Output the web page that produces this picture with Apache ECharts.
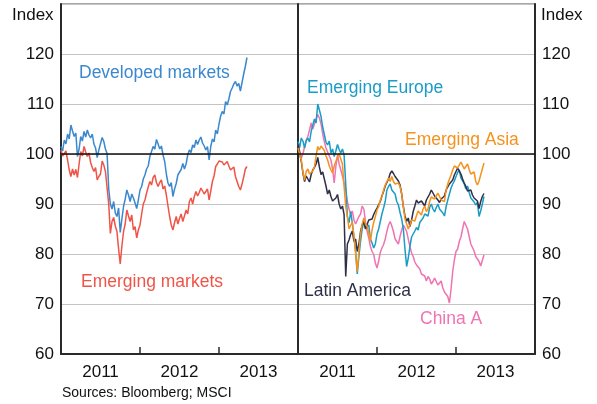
<!DOCTYPE html>
<html>
<head>
<meta charset="utf-8">
<script src="https://cdn.jsdelivr.net/npm/echarts@6/dist/echarts.min.js"></script>
<style>
html,body{margin:0;padding:0;background:#fff;}
#chart{width:597px;height:404px;}
</style>
</head>
<body>
<div id="chart"></div>
<script>
// months since start of January 2011 (quarter-month steps)
const months = [0,0.25,0.5,0.75,1,1.25,1.5,1.75,2,2.25,2.5,2.75,3,3.25,3.5,3.75,4,4.25,4.5,4.75,
  5,5.25,5.5,5.75,6,6.25,6.5,6.75,7,7.25,7.5,7.75,8,8.25,8.5,8.75,9,9.25,9.5,9.75,
  10,10.25,10.5,10.75,11,11.25,11.5,11.75,12,12.25,12.5,12.75,13,13.25,13.5,13.75,14,14.25,14.5,14.75,
  15,15.25,15.5,15.75,16,16.25,16.5,16.75,17,17.25,17.5,17.75,18,18.25,18.5,18.75,19,19.25,19.5,19.75,
  20,20.25,20.5,20.75,21,21.25,21.5,21.75,22,22.25,22.5,22.75,23,23.25,23.5,23.75,24,24.25,24.5,24.75,
  25,25.25,25.5,25.75,26,26.25,26.5,26.75,27,27.25,27.5,27.75,28,28.25];
const years = ["2011","2012","2013"];
const yTicks = [60,70,80,90,100,110,120];

const developed = [101.5,100.6,102.8,102.0,104.0,103.0,105.8,104.6,103.5,104.2,99.5,101.0,103.5,102.6,104.5,103.4,104.8,103.8,103.2,104.0,
  102.0,101.2,99.3,100.8,101.0,103.3,102.5,101.0,100.1,93.0,90.0,89.0,90.5,88.2,87.5,89.2,84.3,87.0,89.5,91.0,
  92.8,91.8,90.5,92.0,91.2,90.2,89.1,90.8,92.8,93.5,95.0,95.8,97.0,97.6,99.5,100.5,101.5,101.0,102.9,102.0,
  101.0,101.6,99.8,98.5,96.0,94.2,93.5,94.3,91.5,93.0,94.1,95.8,96.1,96.9,98.1,97.0,98.0,99.8,100.8,100.3,
  101.8,101.3,102.8,101.9,102.8,103.4,102.2,101.6,100.8,101.5,98.8,101.5,103.0,102.4,104.8,104.0,106.0,107.6,108.5,108.0,
  110.5,109.8,111.0,112.5,113.2,114.0,114.5,113.6,114.1,112.6,113.0,116.0,117.5,119.3];
const emerging = [100.8,99.6,100.1,100.6,98.8,96.8,95.5,97.0,95.8,96.9,95.3,98.0,100.5,99.6,101.5,100.4,99.5,100.2,98.3,97.3,
  96.5,97.3,94.8,95.5,96.0,98.6,97.8,96.5,96.1,90.0,84.1,86.5,87.3,85.6,84.5,81.0,78.0,81.6,84.5,86.0,
  88.8,87.6,86.5,87.8,84.8,85.5,83.2,84.8,85.8,88.0,90.0,90.8,92.2,93.4,94.5,93.8,95.3,95.8,94.3,93.5,
  94.3,94.8,93.0,93.6,91.8,89.6,87.5,85.8,84.8,86.3,87.5,86.0,87.1,88.0,86.5,87.6,88.8,88.0,90.5,91.2,
  90.0,91.5,92.5,91.6,92.3,93.2,92.8,92.0,92.5,93.0,90.8,92.6,94.5,95.6,97.5,98.0,98.6,99.0,98.4,97.8,
  97.9,98.5,97.6,96.8,96.8,97.4,95.5,94.5,93.5,92.8,94.0,95.4,97.0,97.5];
const emEurope = [102.5,101.3,103.2,102.6,101.2,102.6,103.2,102.4,104.5,105.8,107.0,106.2,110.0,108.8,107.5,105.4,103.9,102.4,101.8,102.6,
  100.2,101.0,99.5,100.6,101.9,100.9,100.2,101.0,99.8,94.0,87.5,86.2,88.5,86.2,83.5,80.5,76.0,79.5,82.5,85.0,
  86.5,85.2,85.0,85.8,83.0,82.2,81.2,82.0,84.0,85.0,86.5,88.0,89.2,90.5,92.8,93.5,94.0,92.8,93.0,92.0,
  90.5,89.8,88.3,87.0,85.0,81.0,77.5,79.2,81.5,83.4,84.0,84.6,85.3,84.8,86.3,86.0,87.2,88.0,88.3,87.6,
  89.3,90.0,89.0,88.4,89.3,90.0,89.0,88.6,88.2,87.6,89.5,90.8,92.0,93.2,94.0,94.6,95.5,96.3,96.8,95.2,
  94.8,94.0,93.0,93.6,92.3,91.2,91.0,90.4,89.8,90.3,87.5,88.6,90.0,91.5];
const latAm = [101.9,100.2,98.5,96.2,94.5,95.6,95.0,94.4,95.9,96.8,97.3,98.0,99.3,97.4,95.9,96.4,95.0,93.6,92.0,92.8,
  91.5,90.6,90.5,91.2,91.9,90.0,89.0,89.6,87.9,75.5,82.0,82.8,83.9,84.6,82.5,83.0,80.5,82.0,84.5,85.8,
  86.5,85.0,85.2,86.8,86.5,87.0,87.9,88.6,89.2,89.0,90.5,91.6,92.5,93.6,94.3,95.0,96.1,96.6,96.1,95.5,
  95.3,94.6,93.8,92.0,89.5,87.6,86.5,87.2,85.5,86.8,88.5,89.6,90.8,90.2,89.8,90.6,90.1,89.6,90.8,91.4,
  92.0,92.8,92.5,91.6,91.3,90.8,90.3,91.0,90.6,91.6,92.8,93.2,94.0,94.4,94.8,95.8,96.5,97.2,96.8,96.0,
  95.0,94.2,93.5,92.6,92.3,92.8,91.8,91.2,91.0,90.6,89.1,90.5,91.5,92.1];
const emAsia = [101.2,100.0,98.8,96.4,94.8,96.5,97.0,96.0,95.9,96.6,97.5,99.6,101.5,100.8,101.6,102.0,100.7,99.6,98.8,97.6,
  96.8,96.2,97.6,98.5,99.3,100.0,99.0,98.0,93.5,89.5,87.5,85.0,85.7,86.4,83.5,80.2,76.5,80.5,84.0,86.0,
  87.2,86.0,85.5,84.2,82.5,84.8,86.3,87.5,88.8,89.5,90.8,91.5,92.8,93.8,94.2,95.2,94.5,95.5,94.5,94.0,
  93.8,94.2,93.5,92.0,89.5,87.0,86.0,85.0,85.8,86.8,87.2,86.6,87.7,88.6,88.5,87.8,89.0,89.6,88.5,89.0,
  90.5,91.4,91.8,91.0,91.6,92.2,91.5,90.8,91.0,90.5,92.8,94.0,95.0,95.8,96.8,97.6,98.0,97.2,97.6,98.4,
  98.0,97.0,97.4,98.0,96.9,96.0,95.8,96.4,94.5,93.8,94.6,95.8,97.0,98.2];
const chinaA = [101.9,100.6,99.2,100.0,101.5,102.8,103.5,104.8,106.2,105.0,106.0,107.0,107.9,107.2,106.0,104.0,102.5,101.2,100.8,99.6,
  98.8,97.0,94.2,97.5,99.8,98.0,96.8,95.6,94.2,93.0,90.5,89.0,88.0,88.6,86.8,86.0,85.9,87.5,88.0,89.6,
  89.0,86.5,84.5,83.2,81.5,80.5,79.9,78.2,77.2,78.6,80.3,81.2,81.9,83.0,84.5,85.8,86.5,85.6,84.5,83.0,
  82.5,82.0,83.5,84.8,85.8,85.2,84.5,83.0,81.5,80.2,79.5,78.4,77.8,78.0,77.0,76.0,76.0,75.6,74.6,75.5,
  75.0,74.0,74.5,75.2,74.5,73.8,74.0,74.6,73.2,72.4,72.0,71.5,70.2,73.0,76.5,78.8,80.5,81.0,82.5,83.4,
  85.0,86.5,86.5,85.0,83.5,82.0,81.3,80.6,79.5,79.0,78.5,77.6,77.8,79.8];

const FONT = '"Liberation Sans", Arial, sans-serif';
const C = {
  developed: '#3b88cf',
  emerging: '#ef5448',
  europe: '#1a9cc7',
  latam: '#2f3048',
  asia: '#f5921e',
  china: '#f074b1'
};

function pairs(vals){ return months.map((m,i)=>[m, vals[i]]); }

function lineSeries(name, vals, color, xi, yi){
  return {
    name: name, type: 'line', xAxisIndex: xi, yAxisIndex: yi,
    data: pairs(vals), showSymbol: false, symbol: 'none',
    lineStyle: {color: color, width: 1.5}, itemStyle: {color: color},
    silent: true, animation: false, z: 3
  };
}

const chart = echarts.init(document.getElementById('chart'), null, {renderer: 'canvas'});

const gridCommon = {top: 4, bottom: 50, show: true, borderColor: '#8c8c8c', borderWidth: 1.3, backgroundColor: 'transparent'};

function yAxisDef(gi, pos, labels){
  return {
    type: 'value', gridIndex: gi, position: pos, min: 60, max: 130, interval: 10,
    axisLine: {show: true, onZero: false, lineStyle: {color: '#2a2a2a', width: 2}},
    axisTick: {show: false},
    axisLabel: {
      show: labels,
      color: '#111', fontSize: 17, fontFamily: FONT, margin: 7,
      formatter: v => (yTicks.indexOf(v) >= 0 ? String(v) : '')
    },
    splitLine: {show: labels, lineStyle: {color: '#c4c4c4', width: 1.2}}
  };
}
function catAxis(gi){
  return {
    type: 'category', gridIndex: gi, data: years, boundaryGap: true, position: 'bottom',
    axisLine: {show: true, lineStyle: {color: '#2a2a2a', width: 2}},
    axisTick: {show: true, inside: true, length: 7, lineStyle: {color: '#2a2a2a', width: 1.5}},
    axisLabel: {color: '#111', fontSize: 17, fontFamily: FONT, margin: 10},
    splitLine: {show: false}
  };
}
function valAxis(gi){
  return {type: 'value', gridIndex: gi, min: 0, max: 36, show: false, splitLine: {show: false}};
}

const ref100 = {
  silent: true, symbol: 'none', animation: false,
  label: {show: false},
  lineStyle: {color: '#111', type: 'solid', width: 1.5},
  data: [{yAxis: 100}]
};

const s = [];
s.push(lineSeries('Developed markets', developed, C.developed, 1, 0));
s.push(lineSeries('Emerging markets', emerging, C.emerging, 1, 0));
s[1].markLine = ref100;
s.push(lineSeries('China A', chinaA, C.china, 3, 2));
s.push(lineSeries('Emerging Europe', emEurope, C.europe, 3, 2));
s.push(lineSeries('Latin America', latAm, C.latam, 3, 2));
s.push(lineSeries('Emerging Asia', emAsia, C.asia, 3, 2));
s[5].markLine = ref100;

function txt(t, x, y, color, size, align){
  return {
    type: 'text', x: x, y: y, silent: true, z: 10,
    style: {text: t, fill: color, font: (size||17) + 'px ' + FONT,
      textAlign: align || 'left', textVerticalAlign: 'middle', verticalAlign: 'middle'}
  };
}

chart.setOption({
  animation: false,
  backgroundColor: '#fff',
  textStyle: {fontFamily: FONT},
  grid: [
    Object.assign({left: 61, right: 299}, gridCommon),
    Object.assign({left: 298, right: 62}, gridCommon)
  ],
  xAxis: [catAxis(0), valAxis(0), catAxis(1), valAxis(1)],
  yAxis: [yAxisDef(0, 'left', true), yAxisDef(0, 'right', false), yAxisDef(1, 'right', true)],
  series: s,
  graphic: [
    txt('Index', 12, 15, '#111', 17),
    txt('Index', 541, 15, '#111', 17),
    txt('Developed markets', 79, 73, C.developed, 17.5),
    txt('Emerging markets', 81, 282, C.emerging, 17.5),
    txt('Emerging Europe', 307, 88, C.europe, 17.5),
    txt('Emerging Asia', 405, 140, C.asia, 17.5),
    txt('Latin America', 304, 291, C.latam, 17.5),
    txt('China A', 420, 319, C.china, 17.5),
    txt('Sources: Bloomberg; MSCI', 62, 393, '#111', 14)
  ]
});
</script>
</body>
</html>
